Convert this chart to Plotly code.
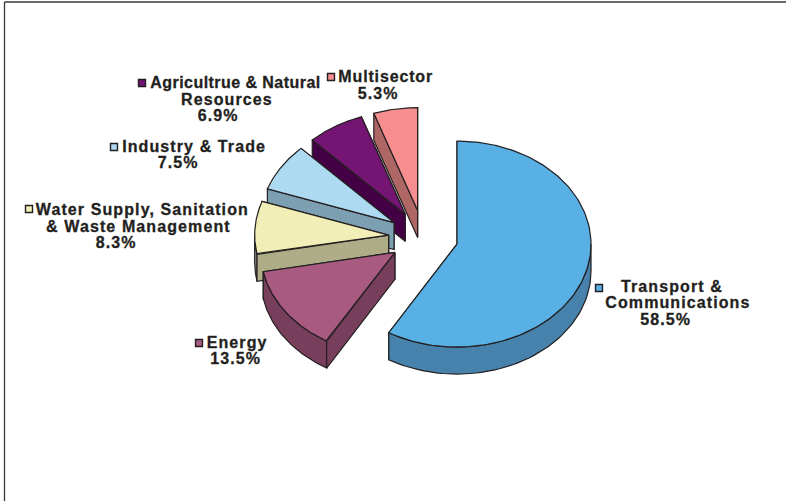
import numpy as np
import plotly.graph_objects as go

# ---- data ----
categories = ["Transport & Communications", "Energy", "Water Supply, Sanitation & Waste Management",
              "Industry & Trade", "Agricultrue & Natural Resources", "Multisector"]
shares = [58.5, 13.5, 8.3, 7.5, 6.9, 5.3]
top_colors = ["#58B0E4", "#A85A80", "#F2EEB8", "#AEDAF1", "#741473", "#F68D8E"]
side_colors = ["#4682AB", "#773F5B", "#AEAD87", "#7D9FB2", "#440045", "#AF6766"]
arc_colors = ["#4682AB", "#773F5B", "#8E989C", "#7D9FB2", "#440045", "#AF6766"]

# label lines for each category (text, centre x, centre y)
label_lines = [
    [("Transport &", 672, 286), ("Communications", 678, 302), ("58.5%", 665, 319)],
    [("Energy", 237, 342), ("13.5%", 235, 358)],
    [("Water Supply, Sanitation", 142, 209), ("& Waste Management", 138, 226), ("8.3%", 116, 242)],
    [("Industry & Trade", 193.5, 146), ("7.5%", 178, 162)],
    [("Agricultrue & Natural", 235, 82), ("Resources", 227, 99), ("6.9%", 218, 115)],
    [("Multisector", 385.5, 76), ("5.3%", 378, 93)],
]
key_x = [599, 199, 29, 114, 142, 331]
key_y = [288, 343, 209, 147, 83, 77]

# ---- pie projection ----
CX, CY = 423.4, 237.0
RX, RY = 134.0, 103.0
DEPTH = 27.0
EXPLODE = 0.26
INK = "#231F20"
FONT = "Liberation Sans"
FONT_SIZE = 16


def ring(t, ax, ay):
    return ax + RX * np.sin(t), ay - RY * np.cos(t)


def poly(fig, xs, ys, color, width=1.2):
    fig.add_trace(go.Scatter(x=list(xs) + [xs[0]], y=list(ys) + [ys[0]], mode="lines", fill="toself",
                             fillcolor=color, line=dict(color=INK, width=width),
                             hoverinfo="skip", showlegend=False))


fig = go.Figure()
total = sum(shares)
edges = np.radians(np.cumsum([0] + shares) / total * 360)
slices = []
for i in range(len(shares)):
    t0, t1 = edges[i], edges[i + 1]
    mid = (t0 + t1) / 2
    ax = CX + EXPLODE * RX * np.sin(mid)
    ay = CY - EXPLODE * RY * np.cos(mid)
    slices.append((i, t0, t1, ax, ay))

# back slices first
for i, t0, t1, ax, ay in reversed(slices):
    lo, hi = max(t0, np.pi / 2), min(t1, 3 * np.pi / 2)
    for t, hidden in ((t0, np.sin(t0) >= 0), (t1, np.sin(t1) <= 0)):
        if hidden:
            px, py = ring(t, ax, ay)
            poly(fig, [ax, px, px, ax], [ay, py, py + DEPTH, ay + DEPTH], side_colors[i])
    if hi > lo:
        ts = np.linspace(lo, hi, 60)
        x, y = ring(ts, ax, ay)
        poly(fig, np.r_[x, x[::-1]], np.r_[y, y[::-1] + DEPTH], arc_colors[i])
    for t, vis in ((t0, np.sin(t0) < 0), (t1, np.sin(t1) > 0)):
        if vis:
            px, py = ring(t, ax, ay)
            poly(fig, [ax, px, px, ax], [ay, py, py + DEPTH, ay + DEPTH], side_colors[i])
    ts = np.linspace(t0, t1, 160)
    x, y = ring(ts, ax, ay)
    poly(fig, np.r_[ax, x], np.r_[ay, y], top_colors[i])

# legend keys
fig.add_trace(go.Scatter(x=key_x, y=key_y, mode="markers",
                         marker=dict(symbol="square", size=7, color=top_colors, line=dict(color=INK, width=1.4)),
                         hoverinfo="skip", showlegend=False))

for lines in label_lines:
    for text, x, y in lines:
        fig.add_annotation(x=x, y=y, text=f"<b>{text}</b>", showarrow=False, xanchor="center", yanchor="middle",
                           font=dict(family=FONT, size=FONT_SIZE, color=INK))

# page frame
fig.add_shape(type="line", x0=4.5, x1=786, y0=2, y1=2, line=dict(color="#3A3A3A", width=1.3))
fig.add_shape(type="line", x0=4.5, x1=4.5, y0=2, y1=501, line=dict(color="#3A3A3A", width=1.3))

fig.update_xaxes(range=[0, 786], visible=False, fixedrange=True)
fig.update_yaxes(range=[501, 0], visible=False, fixedrange=True)
fig.update_layout(width=786, height=501, margin=dict(l=0, r=0, t=0, b=0), autosize=False,
                  paper_bgcolor="white", plot_bgcolor="white", showlegend=False)

page_css = """
document.body.style.margin = '0';
document.querySelectorAll('.annotation-text').forEach(function (t) {
  var s = t.textContent;
  t.style.letterSpacing = s.indexOf('Agricultrue') === 0 ? '0.45px' : (s === 'Multisector' ? '0.85px' : '1.1px');
  t.style.stroke = '#231F20';
  t.style.strokeWidth = '0.3px';
});
"""
fig.write_html("out.html", config=dict(displayModeBar=False), post_script=page_css)
